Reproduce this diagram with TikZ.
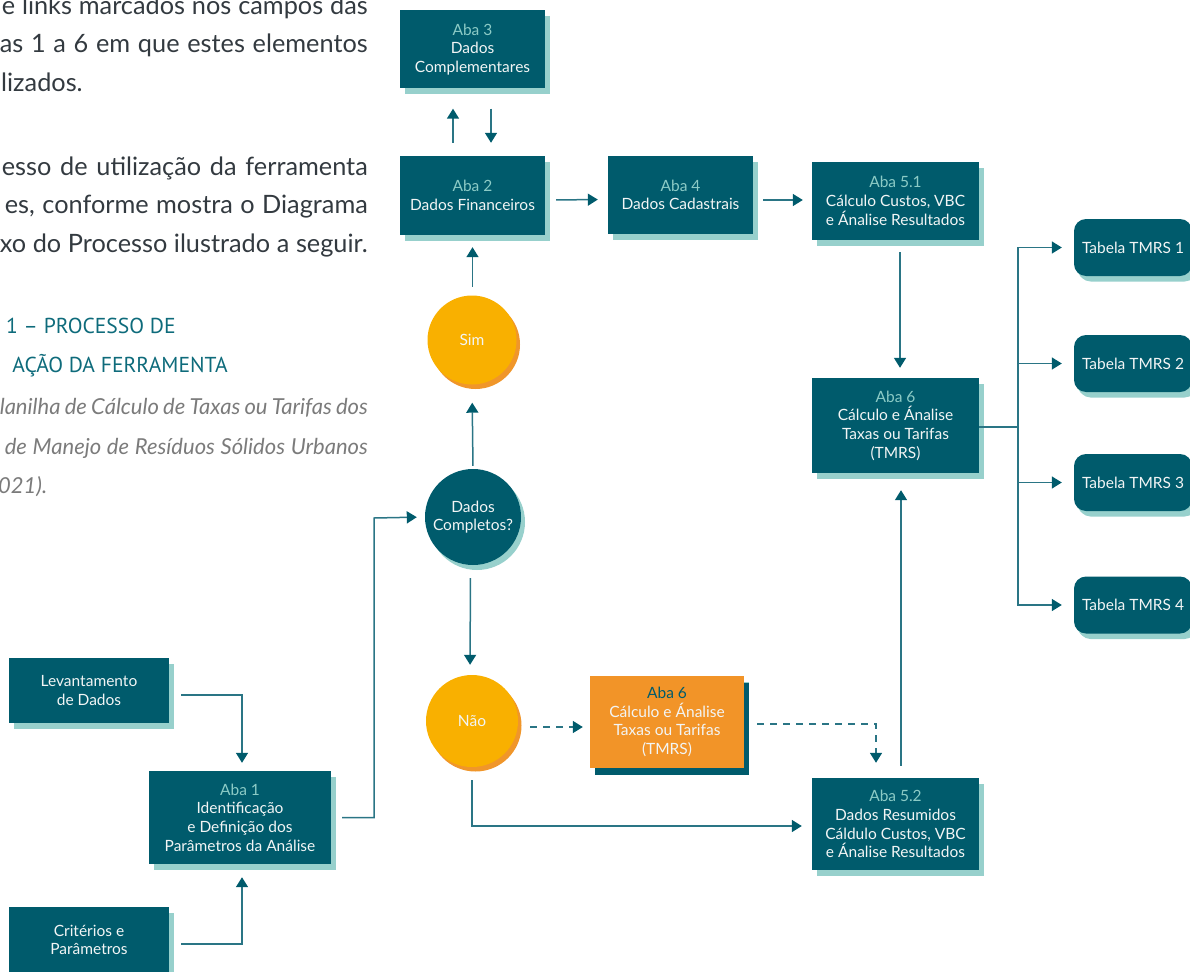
\documentclass[tikz,border=0pt]{standalone}
\usepackage{fontspec}
\setmainfont{Lato}
\newfontfamily\headfont{PT Sans}
\usetikzlibrary{arrows.meta,shadows,calc}
\definecolor{tealbox}{RGB}{0,91,108}
\definecolor{shadowlight}{RGB}{151,208,204}
\definecolor{abatext}{RGB}{140,203,198}
\definecolor{boxtext}{RGB}{242,245,245}
\definecolor{yelcirc}{RGB}{249,176,0}
\definecolor{yelshadow}{RGB}{240,150,42}
\definecolor{orangebox}{RGB}{242,148,40}
\definecolor{linecol}{RGB}{42,117,133}
\definecolor{headcol}{RGB}{14,107,123}
\definecolor{bodycol}{RGB}{51,58,64}
\definecolor{captcol}{RGB}{123,123,123}
\tikzset{
  box/.style={rectangle, fill=tealbox, text=boxtext, align=center, inner sep=0pt,
    font=\fontsize{15.5}{18.7}\selectfont,
    general shadow={fill=shadowlight, shadow xshift=4.5pt, shadow yshift=-5.5pt}},
  obox/.style={box, fill=orangebox, general shadow={fill=tealbox, shadow xshift=4.5pt, shadow yshift=-6.5pt}},
  tbox/.style={box, rounded corners=12pt, minimum width=118pt, minimum height=57pt,
    general shadow={fill=shadowlight, shadow xshift=3pt, shadow yshift=-4pt}},
  ycirc/.style={circle, fill=yelcirc, text=boxtext, inner sep=0pt, align=center,
    font=\fontsize{15.5}{18.7}\selectfont,
    general shadow={fill=yelshadow, shadow xshift=3.5pt, shadow yshift=-4.5pt}},
  tcirc/.style={circle, fill=tealbox, text=boxtext, inner sep=0pt, align=center,
    font=\fontsize{15.5}{18.7}\selectfont,
    general shadow={fill=shadowlight, shadow xshift=4pt, shadow yshift=-5pt}},
  conn/.style={draw=linecol, line width=1.5pt},
  arr/.style={conn, -{Triangle[width=12pt,length=10pt,color=tealbox]}},
  darr/.style={arr, dash pattern=on 7pt off 6pt},
  bodytxt/.style={inner sep=0pt, text=bodycol, font=\fontsize{25.3}{38}\selectfont},
  headtxt/.style={inner sep=0pt, text=headcol, font=\headfont\fontsize{21.6}{38}\selectfont},
  capttxt/.style={inner sep=0pt, text=captcol, font=\itshape\fontsize{22}{38}\selectfont},
}
\newcommand{\aba}[1]{{\color{abatext}#1}}
\begin{document}
\begin{tikzpicture}[x=1pt,y=-1pt]
\useasboundingbox (0,0) rectangle (1190,971);
% left text
\node[bodytxt, anchor=base east] (p1) at (368,15) {\makebox[366pt][s]{e links marcados nos campos das}};
\node[bodytxt, anchor=base east] (p2) at (368,53) {\makebox[368pt][s]{as 1 a 6 em que estes elementos}};
\node[bodytxt, anchor=base west] (p3) at (1,92) {lizados.};
\node[bodytxt, anchor=base east] (p4) at (368,175) {\makebox[366pt][s]{esso de utilização da ferramenta}};
\node[bodytxt, anchor=base east] (p5) at (368,213) {\makebox[363pt][s]{es, conforme mostra o Diagrama}};
\node[bodytxt, anchor=base east] (p6) at (368,252) {\makebox[368pt][s]{xo do Processo ilustrado a seguir.}};
\node[headtxt, anchor=base west] (h1) at (6,333) {1 – PROCESSO DE};
\node[headtxt, anchor=base east] (h2) at (228,372) {AÇÃO DA FERRAMENTA};
\node[capttxt, anchor=base east] (c1) at (368,414) {\makebox[368pt][s]{lanilha de Cálculo de Taxas ou Tarifas dos}};
\node[capttxt, anchor=base east] (c2) at (368,454) {\makebox[363pt][s]{de Manejo de Resíduos Sólidos Urbanos}};
\node[capttxt, anchor=base west] (c3) at (-2,493) {021).};
% boxes
\node[box, minimum width=145pt, minimum height=78pt] (a3) at (472.5,49.5) {\aba{Aba 3}\\Dados\\Complementares};
\node[box, minimum width=145pt, minimum height=79pt] (a2) at (472.5,195.5) {\aba{Aba 2}\\Dados Financeiros};
\node[box, minimum width=145pt, minimum height=78pt] (a4) at (680.5,195) {\aba{Aba 4}\\Dados Cadastrais};
\node[box, minimum width=167pt, minimum height=78pt] (a51) at (895.5,201) {\aba{Aba 5.1}\\Cálculo Custos, VBC\\e Ánalise Resultados};
\node[box, minimum width=167pt, minimum height=95pt] (a6) at (895.5,425.5) {\aba{Aba 6}\\Cálculo e Ánalise\\Taxas ou Tarifas\\(TMRS)};
\node[box, minimum width=167pt, minimum height=92pt] (a52) at (895.5,824) {\aba{Aba 5.2}\\Dados Resumidos\\Cáldulo Custos, VBC\\e Ánalise Resultados};
\node[obox, minimum width=154pt, minimum height=92pt] (ob) at (667,722) {{\color{tealbox}Aba 6}\\Cálculo e Ánalise\\Taxas ou Tarifas\\(TMRS)};
\node[box, minimum width=160pt, minimum height=65pt] (lev) at (89,690.5) {Levantamento\\de Dados};
\node[box, minimum width=182pt, minimum height=93pt] (a1) at (240,817.5) {\aba{Aba 1}\\Identificação\\e Definição dos\\Parâmetros da Análise};
\node[box, minimum width=160pt, minimum height=66pt] (crit) at (89,940) {Critérios e\\Parâmetros};
\node[ycirc, minimum size=89pt] (sim) at (472,340) {Sim};
\node[tcirc, minimum size=96pt] (dc) at (473,517) {Dados\\Completos?};
\node[ycirc, minimum size=92pt] (nao) at (472,721) {Não};
\node[tbox] (t1) at (1133,247.5) {Tabela TMRS 1};
\node[tbox] (t2) at (1133,363.5) {Tabela TMRS 2};
\node[tbox] (t3) at (1133,482.5) {Tabela TMRS 3};
\node[tbox] (t4) at (1133,605) {Tabela TMRS 4};
% connectors
\draw[arr, shorten <=12pt, shorten >=8pt] ([yshift=-4.5pt]lev.east) -| ([xshift=2pt]a1.north);
\draw[arr, shorten <=12pt, shorten >=13pt] ([yshift=-4pt]crit.east) -| ([xshift=2pt]a1.south);
\coordinate (j1) at (374,518);
\draw[arr, shorten <=11pt, shorten >=8pt] (a1.east) -| (j1) -- (dc.west);
\draw[arr, shorten <=3pt, shorten >=18pt] (dc.north) -- (sim.south);
\draw[arr, shorten <=8.5pt, shorten >=12pt] ([xshift=0.5pt]sim.north) -- (a2.south);
\draw[arr, shorten <=13pt, shorten >=20pt] ([xshift=-19.5pt]a2.north) -- ([xshift=-19.5pt]a3.south);
\draw[arr, shorten <=20pt, shorten >=13pt] ([xshift=18.5pt]a3.south) -- ([xshift=18.5pt]a2.north);
\draw[arr, shorten <=11pt, shorten >=10pt] ([yshift=-4.5pt]a2.east) -- ([yshift=-4.5pt]a4.west);
\draw[arr, shorten <=10pt, shorten >=9pt] ([yshift=-5pt]a4.east) -- ([yshift=-5pt]a4.east -| a51.west);
\draw[arr, shorten <=12pt, shorten >=10pt] ([xshift=4.5pt]a51.south) -- ([xshift=4.5pt]a6.north);
\coordinate (br) at (1018,427);
\draw[conn] ([yshift=-1.5pt]a6.east) -- (br);
\draw[arr, shorten >=12pt] (br) |- (t1.west);
\draw[arr, shorten >=12pt] (br) |- (t2.west);
\draw[arr, shorten >=12pt] (br) |- (t3.west);
\draw[arr, shorten >=12pt] (br) |- (t4.west);
\draw[arr, shorten <=13pt, shorten >=10pt] ([xshift=-2.5pt]dc.south) -- ([xshift=-2pt]nao.north);
\draw[arr, shorten <=13pt, shorten >=10pt] (nao.south) |- ([yshift=-2pt]a52.west);
\draw[darr, shorten <=12pt, shorten >=7pt] ([yshift=-6pt]nao.east) -- ([yshift=-6pt]nao.east -| ob.west);
\draw[darr, shorten <=13pt, shorten >=15pt] ([yshift=-2pt]ob.east) -| ([xshift=-19.5pt]a52.north);
\draw[arr, shorten <=12pt, shorten >=17pt] ([xshift=5.5pt]a52.north) -- ([xshift=5.5pt]a6.south);
\end{tikzpicture}
\end{document}
